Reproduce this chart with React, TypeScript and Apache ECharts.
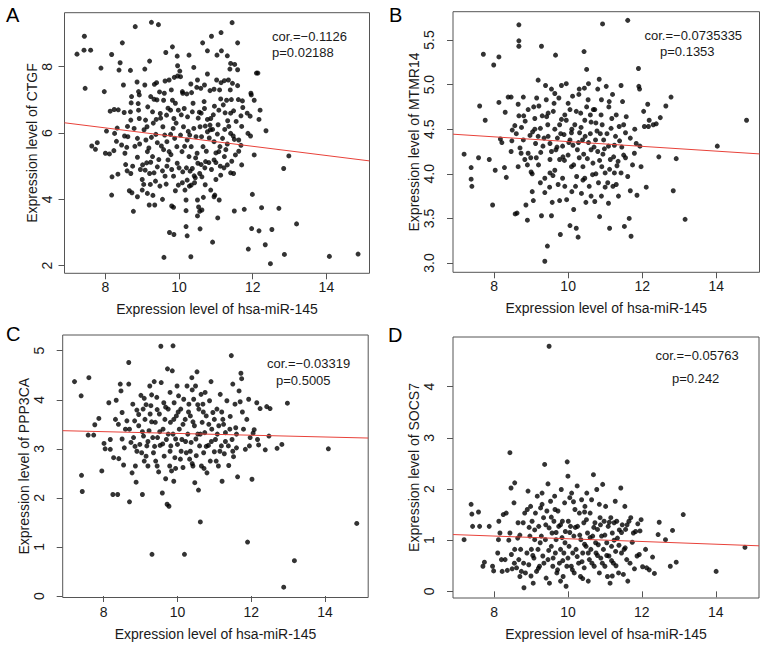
import React, { useEffect, useRef } from "react";
import * as echarts from "echarts";

const FONT = '"Liberation Sans", Arial, Helvetica, sans-serif';

const xName = "Expression level of hsa-miR-145";
const xTicks = [8, 10, 12, 14];
const xRange = [6.89, 15.17];

const yNames = [
  "Expression level of CTGF",
  "Expression level of MTMR14",
  "Expression level of PPP3CA",
  "Expression level of SOCS7",
];
const panelLetters = ["A", "B", "C", "D"];
const corTexts = ["cor.=\u22120.1126", "cor.=\u22120.0735335", "cor.=\u22120.03319", "cor.=\u22120.05763"];
const pTexts = ["p=0.02188", "p=0.1353", "p=0.5005", "p=0.242"];

const yTicksA = [2, 4, 6, 8];
const yTicksB = [3.0, 3.5, 4.0, 4.5, 5.0, 5.5];
const yTicksC = [0, 1, 2, 3, 4, 5];
const yTicksD = [0, 1, 2, 3, 4];
const yRanges = [
  [1.77, 9.63],
  [2.896, 5.817],
  [-0.03, 5.32],
  [-0.13, 4.97],
];

const fitA = [[6.89, 6.31], [15.17, 5.16]];
const fitB = [[6.89, 4.444], [15.17, 4.223]];
const fitC = [[6.89, 3.37], [15.17, 3.22]];
const fitD = [[6.89, 1.11], [15.17, 0.89]];

const ctgfPoints = [
  [7.23, 8.38], [7.43, 8.92], [7.42, 8.5], [7.6, 8.5], [7.45, 7.35], [8.81, 9.21], [9.25, 9.34], [9.44, 9.27],
  [8.17, 8.37], [8.46, 8.72], [7.88, 7.96], [7.97, 7.25], [8.4, 8.12], [8.37, 7.9], [8.49, 7.45], [8.68, 7.89],
  [9.07, 7.93], [9.2, 8.17], [8.9, 7.25], [9.07, 7.45], [9.33, 7.47], [9.39, 7.52], [9.64, 8.43], [9.82, 8.6],
  [9.95, 8.32], [9.96, 8.03], [10.02, 7.87], [9.96, 7.72], [10.27, 8.35], [10.4, 7.98], [10.64, 8.72], [10.77, 8.48],
  [10.88, 8.92], [11.14, 9.03], [11.03, 8.35], [11.15, 8.48], [11.31, 8.33], [11.44, 9.33], [11.59, 8.72], [11.4, 8.1],
  [11.38, 7.93], [11.51, 8.07], [11.59, 7.91], [12.1, 7.81], [12.14, 7.81], [11.96, 7.15],
  [8.86, 7.54], [8.92, 7.15], [8.71, 7.1], [8.7, 6.91], [8.89, 6.89], [9.23, 7.1], [9.32, 7.02], [9.47, 7.24],
  [9.58, 6.99], [9.62, 7.57], [9.73, 7.6], [9.79, 7.3], [9.82, 6.99], [9.87, 7.68], [10.04, 7.7], [10.09, 7.25],
  [10.21, 7.18], [10.32, 7.48], [10.34, 7.22], [10.48, 7.38], [10.59, 7.35], [10.69, 7.45], [10.77, 7.78], [10.84, 7.28],
  [10.95, 7.32], [11.02, 7.6], [11.14, 7.52], [11.23, 7.58], [11.34, 7.6], [11.39, 7.3], [11.45, 7.5], [11.59, 7.43],
  [11.13, 7.03], [11.29, 6.99], [11.42, 7.01], [11.61, 7.01], [11.72, 6.97], [11.95, 7.2], [12.04, 6.99],
  [8.13, 6.66], [8.24, 6.71], [8.35, 6.7], [8.51, 6.62], [8.68, 6.64], [8.69, 6.39], [8.9, 6.69], [8.92, 6.44],
  [9.09, 6.39], [9.15, 6.79], [9.28, 6.64], [9.38, 6.41], [9.49, 6.59], [9.66, 6.54], [9.77, 6.69], [9.86, 6.44],
  [9.98, 6.69], [10.14, 6.74], [10.23, 6.49], [10.36, 6.64], [10.55, 6.63], [10.69, 6.74], [10.77, 6.41], [10.86, 6.44],
  [10.96, 6.81], [11.08, 6.69], [11.25, 6.61], [11.32, 6.37], [11.48, 6.67], [11.68, 6.52], [11.73, 6.77], [11.93, 6.51],
  [12.17, 6.41], [12.2, 6.69], [12.36, 6.07], [8.03, 6.06], [7.78, 5.71], [7.63, 5.61], [7.73, 5.51], [8.0, 5.39],
  [8.11, 5.37], [8.25, 5.99], [8.32, 6.15], [8.23, 5.47], [8.52, 5.91], [8.61, 5.89], [8.44, 5.64], [8.58, 5.57],
  [8.53, 5.39], [8.78, 6.14], [8.87, 5.84], [8.93, 5.67], [9.13, 6.19], [9.1, 5.79], [9.14, 5.44], [9.25, 5.87],
  [9.28, 5.29], [9.37, 5.96], [9.41, 5.71], [9.52, 5.61], [9.56, 6.19], [9.61, 5.94], [9.67, 5.74], [9.73, 5.44],
  [9.77, 5.96], [9.84, 6.14], [9.88, 5.84], [9.94, 5.59], [10.04, 5.94], [10.08, 5.44], [10.12, 6.19], [10.22, 5.79],
  [10.29, 5.94], [10.33, 5.59], [10.4, 6.14], [10.46, 5.89], [10.49, 5.39], [10.57, 6.19], [10.61, 5.89], [10.65, 5.59],
  [10.71, 6.21], [10.77, 6.04], [10.84, 6.24], [10.91, 6.11], [10.95, 5.74], [11.04, 5.97], [11.11, 5.59], [11.18, 5.84],
  [11.24, 6.11], [11.31, 5.67], [11.4, 5.99], [11.47, 5.91], [11.5, 5.81], [11.62, 5.79], [11.68, 5.63], [11.87, 5.99],
  [11.94, 5.91],
  [8.18, 4.68], [8.34, 4.76], [8.59, 4.86], [8.69, 4.78], [8.74, 5.0], [8.87, 5.27], [9.01, 5.04], [9.08, 4.88],
  [9.2, 4.78], [9.23, 5.12], [9.32, 4.8], [9.41, 4.98], [9.55, 4.86], [9.67, 5.0], [9.7, 5.19], [9.85, 4.7],
  [9.95, 5.09], [10.1, 4.83], [10.22, 4.58], [10.27, 5.29], [10.36, 4.93], [10.41, 4.71], [10.51, 5.09], [10.56, 4.78],
  [10.62, 4.68], [10.72, 5.14], [10.81, 5.11], [10.95, 5.19], [11.0, 5.11], [11.08, 5.44], [11.13, 4.73], [11.23, 5.29],
  [11.31, 5.04], [11.4, 4.8], [11.48, 4.78], [11.53, 5.34], [11.7, 5.04], [12.04, 5.34], [12.84, 4.93], [12.98, 5.31],
  [8.17, 4.13], [8.65, 4.26], [8.72, 4.2], [8.87, 4.08], [9.0, 4.28], [9.04, 4.45], [9.14, 4.18], [9.19, 3.83],
  [9.29, 4.12], [9.34, 3.83], [9.55, 4.0], [9.65, 4.46], [9.8, 3.8], [9.85, 3.76], [9.9, 4.26], [9.98, 4.43],
  [10.09, 4.5], [10.16, 4.28], [10.19, 3.98], [10.28, 4.4], [10.33, 4.43], [10.42, 4.5], [10.5, 3.98], [10.53, 3.77],
  [10.56, 3.64], [10.5, 3.5], [10.62, 3.68], [10.66, 4.06], [10.71, 4.44], [10.86, 4.28], [10.95, 4.08], [11.09, 3.98],
  [10.97, 4.13], [10.19, 3.66], [11.5, 3.65], [11.77, 3.7], [11.99, 4.15], [12.24, 3.75], [12.71, 3.73], [8.76, 3.64],
  [9.74, 3.0], [9.86, 2.94], [10.19, 3.18], [10.22, 2.9], [10.57, 3.11], [11.05, 3.44], [10.91, 2.71], [11.97, 3.12],
  [12.17, 3.05], [12.52, 3.09], [11.88, 2.5], [12.34, 2.63], [13.19, 3.26], [12.86, 2.34], [9.59, 2.25], [10.32, 2.27],
  [12.48, 2.06], [14.08, 2.28], [14.86, 2.35],
  [9.05, 6.1], [9.18, 5.55], [9.3, 6.3], [9.45, 5.2], [9.5, 6.45], [9.62, 4.7], [9.7, 6.75], [9.78, 5.35],
  [9.92, 6.3], [10.0, 4.95], [10.06, 6.55], [10.15, 5.6], [10.25, 6.05], [10.3, 4.85], [10.38, 6.9], [10.45, 5.25],
  [10.52, 6.45], [10.6, 5.05], [10.68, 6.95], [10.74, 5.45], [10.82, 5.85], [10.88, 4.9], [10.93, 6.55], [11.0, 5.4],
  [11.06, 6.25], [11.12, 5.0], [11.2, 6.85], [11.27, 5.5], [11.35, 6.2], [11.43, 5.15], [11.55, 6.35], [11.62, 5.45],
  [9.0, 4.6], [9.12, 5.1], [9.22, 4.45], [9.36, 4.55], [9.48, 4.4], [9.58, 5.5], [9.8, 4.9], [9.9, 6.9],
  [10.1, 7.2], [10.2, 4.95], [10.44, 4.65], [10.6, 6.6], [10.7, 4.95], [10.85, 6.1], [11.0, 4.6], [11.1, 7.3],
  [11.22, 4.95], [11.4, 6.6], [8.6, 6.2], [8.8, 5.6], [8.95, 4.9], [8.55, 5.05], [8.3, 5.75], [9.4, 7.0],
  [9.6, 7.2], [10.5, 7.6], [11.7, 6.2], [11.85, 6.6],
];

const mtmr14Points = [
  [7.19, 4.22], [7.38, 4.07], [7.38, 3.94], [7.4, 3.86], [7.58, 4.18], [7.61, 4.76], [7.71, 5.34], [7.76, 4.6],
  [7.87, 4.16], [7.96, 3.65], [7.99, 5.22], [8.03, 4.04], [8.13, 5.31], [8.13, 4.8], [8.17, 4.39], [8.21, 4.35],
  [8.3, 4.69], [8.28, 4.07], [8.33, 3.96], [8.38, 4.86], [8.46, 4.86], [8.48, 4.37], [8.56, 4.54], [8.57, 3.55],
  [8.62, 3.56], [8.67, 5.67], [8.67, 5.49], [8.67, 5.43], [8.65, 4.78], [8.67, 4.65], [8.7, 4.29], [8.74, 4.52],
  [8.79, 4.86], [8.84, 4.59], [8.86, 3.65], [8.9, 3.48], [8.92, 4.72], [8.97, 4.43], [8.99, 4.18], [9.03, 3.8],
  [9.06, 3.7], [9.1, 4.62], [9.12, 4.34], [9.14, 4.18], [9.19, 5.05], [9.21, 4.76], [9.25, 4.51], [9.28, 5.43],
  [9.28, 3.53], [9.32, 4.31], [9.37, 3.79], [9.37, 3.02], [9.39, 4.99], [9.41, 4.83], [9.42, 4.64], [9.44, 3.19],
  [9.46, 4.42], [9.51, 4.16], [9.51, 4.01], [9.55, 3.53], [9.57, 3.68], [9.59, 3.98], [9.62, 4.79], [9.64, 4.5],
  [9.66, 5.33], [9.67, 4.27], [9.73, 3.88], [9.77, 4.16], [9.77, 3.7], [9.79, 3.32], [9.82, 4.61], [9.82, 4.99],
  [9.85, 4.31], [9.89, 4.44], [9.91, 3.86], [9.95, 5.01], [9.96, 3.71], [10.0, 4.21], [10.05, 4.72], [10.05, 3.42],
  [10.09, 4.08], [10.12, 4.87], [10.13, 4.32], [10.15, 3.6], [10.18, 4.55], [10.22, 3.39], [10.23, 3.97], [10.27, 3.29],
  [10.29, 4.89], [10.3, 4.18], [10.34, 4.68], [10.36, 3.78], [10.39, 4.38], [10.43, 5.37], [10.44, 4.96], [10.46, 4.42],
  [10.48, 3.68], [10.5, 5.17], [10.52, 4.17], [10.55, 5.01], [10.57, 3.86], [10.6, 4.66], [10.6, 4.45], [10.62, 4.27],
  [10.66, 3.99], [10.68, 4.72], [10.72, 3.69], [10.74, 4.38], [10.75, 4.57], [10.8, 4.25], [10.82, 3.9], [10.84, 5.06],
  [10.85, 3.52], [10.87, 4.45], [10.89, 4.66], [10.93, 5.68], [10.94, 4.22], [10.96, 4.38], [11.0, 4.01], [11.03, 4.98],
  [11.07, 3.9], [11.09, 3.67], [11.11, 4.81], [11.12, 3.39], [11.14, 4.16], [11.16, 4.51], [11.2, 4.89], [11.21, 3.86],
  [11.25, 4.32], [11.3, 4.66], [11.32, 4.09], [11.36, 3.75], [11.39, 4.37], [11.43, 4.99], [11.47, 4.81], [11.5, 4.21],
  [11.52, 3.41], [11.55, 4.46], [11.57, 4.64], [11.61, 5.72], [11.61, 3.97], [11.65, 3.5], [11.68, 3.81], [11.7, 3.3],
  [11.74, 4.1], [11.79, 4.23], [11.84, 4.34], [11.86, 3.76], [11.9, 5.18], [11.91, 4.98], [11.93, 4.95], [11.94, 4.31],
  [11.97, 4.08], [12.04, 4.7], [12.06, 4.53], [12.11, 3.85], [12.15, 4.78], [12.17, 4.53], [12.19, 4.6], [12.3, 4.55],
  [12.38, 4.56], [12.45, 4.19], [12.49, 4.63], [12.64, 4.76], [12.78, 4.86], [12.84, 3.81], [12.92, 4.17], [13.16, 3.49],
  [14.03, 4.31], [14.82, 4.6],
  [9.19, 4.42], [9.26, 4.24], [9.51, 4.34], [9.71, 4.4], [9.86, 4.19], [10.05, 4.38], [10.25, 4.27], [10.4, 4.08],
  [10.67, 4.12], [10.91, 4.08], [11.09, 4.31], [11.23, 4.19], [11.38, 4.53], [9.04, 4.47], [8.92, 4.23], [8.79, 4.38],
  [8.73, 4.23], [8.49, 4.49], [8.46, 4.25], [8.65, 4.08], [8.83, 4.16], [9.77, 4.55], [9.91, 4.66], [10.09, 4.46],
  [10.31, 4.46], [10.45, 4.6], [10.72, 4.72], [10.9, 4.83], [10.54, 4.83], [10.0, 4.79], [9.64, 4.9], [9.46, 4.68],
  [9.07, 4.75], [9.03, 4.0], [9.37, 3.95], [9.64, 4.04], [10.2, 3.86], [10.4, 3.93], [10.62, 3.75], [10.9, 3.75],
  [11.25, 4.01], [11.43, 4.01],
  [9.1, 4.5], [9.2, 4.1], [9.3, 4.65], [9.35, 4.4], [9.45, 4.55], [9.55, 4.25], [9.6, 4.7], [9.7, 4.3],
  [9.75, 4.85], [9.8, 4.45], [9.9, 4.15], [9.95, 4.6], [10.02, 4.35], [10.1, 4.5], [10.15, 4.1], [10.22, 4.7],
  [10.28, 4.35], [10.35, 4.52], [10.42, 4.22], [10.5, 4.75], [10.55, 4.35], [10.62, 4.58], [10.7, 4.3], [10.78, 4.48],
  [10.85, 4.15], [10.92, 4.55], [10.98, 4.28], [11.05, 4.45], [11.12, 4.05], [11.18, 4.62], [11.28, 4.42], [11.35, 4.14],
  [11.45, 4.3], [11.55, 4.18], [11.68, 4.4], [9.0, 4.02], [9.25, 3.9], [9.5, 3.85], [9.85, 3.95], [10.1, 3.8],
  [10.45, 3.95], [10.75, 4.0], [11.0, 3.85], [11.3, 3.88], [8.6, 4.45], [8.8, 4.65], [8.9, 4.1], [9.15, 4.85],
  [9.55, 4.95], [10.3, 4.95], [10.8, 4.95], [11.1, 4.75], [11.5, 4.55], [11.8, 4.5],
];

const ppp3caPoints = [
  [7.21, 4.37], [7.39, 4.08], [7.4, 2.46], [7.42, 2.13], [7.6, 4.45], [7.58, 3.28], [7.73, 3.28], [7.76, 3.49],
  [7.87, 3.62], [7.95, 2.55], [8.01, 3.11], [8.04, 3.0], [8.14, 3.94], [8.18, 3.19], [8.18, 2.99], [8.25, 2.07],
  [8.27, 2.82], [8.32, 3.6], [8.34, 3.99], [8.38, 2.07], [8.41, 2.8], [8.45, 4.32], [8.47, 4.18], [8.5, 3.74],
  [8.54, 2.67], [8.56, 3.02], [8.59, 3.4], [8.63, 3.57], [8.68, 4.76], [8.68, 4.32], [8.7, 1.92], [8.74, 3.13],
  [8.77, 2.51], [8.79, 3.91], [8.81, 3.23], [8.84, 3.57], [8.86, 2.65], [8.88, 2.32], [8.9, 3.79], [8.95, 3.47],
  [8.98, 3.09], [9.01, 4.09], [9.03, 2.92], [9.05, 2.07], [9.07, 3.81], [9.08, 3.26], [9.1, 4.03], [9.12, 3.6],
  [9.15, 2.85], [9.17, 3.06], [9.2, 2.65], [9.23, 3.37], [9.25, 4.28], [9.26, 3.71], [9.28, 3.88], [9.31, 0.85],
  [9.33, 3.23], [9.35, 2.92], [9.37, 4.37], [9.4, 3.54], [9.41, 2.75], [9.44, 4.05], [9.46, 3.23], [9.49, 2.53],
  [9.51, 3.71], [9.53, 3.07], [9.55, 5.09], [9.56, 4.35], [9.59, 2.1], [9.61, 3.4], [9.63, 3.94], [9.64, 2.85],
  [9.66, 3.6], [9.68, 2.39], [9.7, 3.19], [9.72, 1.87], [9.73, 4.63], [9.75, 3.81], [9.77, 1.83], [9.79, 2.65],
  [9.81, 3.54], [9.82, 3.06], [9.84, 2.55], [9.86, 4.59], [9.88, 5.1], [9.88, 3.3], [9.9, 2.34], [9.91, 3.94],
  [9.93, 2.82], [9.97, 3.67], [9.99, 4.28], [10.0, 3.09], [10.03, 4.08], [10.05, 3.4], [10.08, 2.79], [10.09, 3.81],
  [10.12, 3.19], [10.15, 2.62], [10.17, 4.01], [10.19, 0.85], [10.21, 3.6], [10.24, 2.92], [10.26, 4.28], [10.28, 3.3],
  [10.31, 3.91], [10.33, 2.79], [10.35, 3.67], [10.37, 3.13], [10.39, 4.45], [10.42, 2.65], [10.44, 4.01], [10.46, 3.47],
  [10.47, 2.31], [10.49, 4.28], [10.51, 2.86], [10.53, 4.57], [10.55, 3.3], [10.57, 2.16], [10.58, 3.81], [10.6, 3.06],
  [10.62, 1.51], [10.64, 4.11], [10.65, 2.65], [10.67, 3.54], [10.69, 3.91], [10.71, 2.92], [10.74, 3.33], [10.78, 3.67],
  [10.8, 2.51], [10.84, 3.07], [10.87, 3.98], [10.89, 2.75], [10.91, 4.37], [10.93, 3.4], [10.96, 3.74], [11.0, 2.94],
  [11.03, 3.19], [11.07, 3.81], [11.11, 2.65], [11.12, 3.47], [11.16, 4.11], [11.19, 3.06], [11.21, 2.34], [11.23, 3.6],
  [11.27, 2.9], [11.3, 3.33], [11.34, 3.98], [11.38, 3.06], [11.39, 2.66], [11.43, 3.66], [11.46, 4.9], [11.48, 3.19],
  [11.5, 4.32], [11.52, 2.84], [11.56, 3.91], [11.58, 3.43], [11.6, 3.02], [11.63, 2.43], [11.67, 4.18], [11.7, 3.96],
  [11.72, 4.54], [11.74, 4.43], [11.76, 3.75], [11.79, 3.4], [11.84, 2.99], [11.88, 3.6], [11.9, 1.1], [11.93, 4.01],
  [11.95, 3.06], [11.97, 3.23], [12.02, 2.38], [12.05, 3.32], [12.08, 3.39], [12.15, 3.94], [12.17, 3.19], [12.24, 3.82],
  [12.2, 3.08], [12.38, 2.98], [12.42, 3.86], [12.48, 3.26], [12.51, 3.82], [12.7, 3.01], [12.83, 3.09], [12.98, 3.93],
  [12.88, 0.18], [13.17, 0.72], [14.09, 3.0], [14.86, 1.48],
  [8.7, 3.4], [8.85, 3.05], [8.95, 3.7], [9.05, 3.35], [9.15, 3.9], [9.2, 3.15], [9.3, 3.55], [9.38, 3.05],
  [9.45, 3.8], [9.52, 3.35], [9.6, 3.1], [9.68, 3.85], [9.75, 3.3], [9.8, 2.95], [9.9, 3.6], [9.95, 3.2],
  [10.02, 3.75], [10.1, 2.95], [10.15, 3.5], [10.22, 3.15], [10.3, 3.75], [10.35, 2.95], [10.42, 3.55], [10.5, 3.2],
  [10.55, 3.9], [10.62, 3.3], [10.7, 3.75], [10.78, 3.05], [10.85, 3.5], [10.92, 3.15], [11.0, 3.6], [11.08, 3.3],
  [11.15, 2.95], [11.25, 3.5], [11.3, 3.15], [11.42, 3.4], [11.5, 2.95], [11.6, 3.3], [9.1, 2.75], [9.45, 2.65],
  [9.95, 2.6], [10.4, 2.7], [10.72, 2.6], [11.05, 2.75], [9.3, 4.1], [9.8, 4.15], [10.4, 4.2], [10.75, 4.15],
  [11.2, 3.75], [8.5, 3.2], [8.4, 3.5], [8.9, 2.95],
];

const socs7Points = [
  [7.19, 1.01], [7.38, 1.7], [7.4, 1.51], [7.42, 1.27], [7.58, 1.55], [7.61, 1.27], [7.7, 0.49], [7.74, 0.57],
  [7.87, 1.27], [7.96, 0.49], [7.99, 0.4], [8.1, 0.75], [8.12, 1.01], [8.13, 1.37], [8.16, 1.14], [8.2, 0.62],
  [8.22, 0.39], [8.25, 1.5], [8.3, 0.62], [8.33, 1.53], [8.36, 0.41], [8.43, 1.14], [8.43, 2.71], [8.46, 2.02],
  [8.47, 0.72], [8.49, 0.44], [8.54, 1.73], [8.56, 2.12], [8.56, 0.82], [8.61, 0.46], [8.64, 1.04], [8.65, 1.34],
  [8.67, 0.62], [8.7, 0.29], [8.72, 0.82], [8.74, 0.39], [8.79, 1.34], [8.81, 0.07], [8.83, 1.53], [8.85, 0.36],
  [8.89, 0.75], [8.9, 1.6], [8.92, 1.96], [8.94, 0.52], [8.97, 1.08], [8.99, 1.66], [9.01, 0.82], [9.03, 1.37],
  [9.06, 0.16], [9.08, 0.65], [9.1, 1.01], [9.12, 1.53], [9.15, 0.39], [9.17, 1.86], [9.19, 0.82], [9.21, 1.27],
  [9.23, 0.49], [9.26, 1.63], [9.28, 1.08], [9.3, 1.92], [9.32, 0.69], [9.34, 1.44], [9.37, 2.48], [9.39, 1.01],
  [9.41, 0.26], [9.43, 1.57], [9.46, 2.1], [9.46, 0.62], [9.49, 1.24], [9.5, 0.16], [9.49, 4.79], [9.53, 1.76],
  [9.55, 0.88], [9.57, 1.14], [9.59, 0.49], [9.62, 1.37], [9.64, 1.86], [9.66, 0.75], [9.68, 1.01], [9.7, 0.36],
  [9.73, 1.57], [9.75, 1.27], [9.77, 0.55], [9.8, 0.82], [9.82, 1.99], [9.84, 1.05], [9.85, 1.37], [9.87, 0.29],
  [9.89, 0.75], [9.91, 1.73], [9.93, 1.17], [9.95, 0.1], [9.97, 0.49], [9.98, 2.53], [10.0, 2.25], [10.01, 1.37],
  [10.03, 0.88], [10.05, 1.83], [10.07, 1.27], [10.09, 0.49], [10.1, 1.92], [10.13, 0.75], [10.16, 1.08], [10.17, 0.36],
  [10.19, 1.6], [10.22, 0.82], [10.25, 2.06], [10.26, 1.27], [10.29, 0.55], [10.31, 1.53], [10.34, 0.29], [10.35, 1.01],
  [10.37, 1.79], [10.4, 0.75], [10.43, 1.34], [10.44, 0.46], [10.46, 1.66], [10.49, 0.88], [10.51, 1.92], [10.53, 1.14],
  [10.55, 0.2], [10.58, 0.62], [10.6, 1.53], [10.62, 0.82], [10.64, 1.79], [10.67, 1.08], [10.69, 2.28], [10.71, 0.49],
  [10.73, 1.34], [10.76, 0.75], [10.78, 1.99], [10.8, 1.21], [10.82, 0.91], [10.85, 0.36], [10.87, 1.44], [10.89, 0.65],
  [10.91, 1.08], [10.94, 2.09], [10.96, 0.82], [10.98, 1.37], [11.0, 0.49], [11.02, 1.66], [11.05, 0.95], [11.07, 0.29],
  [11.09, 1.27], [11.11, 0.69], [11.14, 0.16], [11.16, 1.44], [11.18, 0.88], [11.2, 1.14], [11.23, 0.55], [11.25, 1.34],
  [11.28, 1.76], [11.29, 0.78], [11.32, 1.37], [11.34, 1.04], [11.37, 0.36], [11.39, 1.2], [11.43, 2.02], [11.45, 0.75],
  [11.47, 1.3], [11.5, 0.33], [11.52, 0.82], [11.54, 1.66], [11.56, 1.21], [11.59, 0.62], [11.62, 0.2], [11.65, 1.37],
  [11.7, 1.44], [11.74, 0.96], [11.77, 1.14], [11.8, 0.44], [11.83, 1.17], [11.87, 0.69], [11.89, 1.32], [11.93, 0.72],
  [11.95, 1.18], [11.98, 1.4], [12.02, 0.48], [12.1, 0.82], [12.13, 0.46], [12.2, 0.42], [12.29, 0.67], [12.34, 0.35],
  [12.44, 1.11], [12.47, 1.35], [12.64, 1.01], [12.77, 0.49], [12.83, 1.19], [12.93, 0.57], [13.12, 1.5], [14.01, 0.39],
  [14.79, 0.86],
  [8.7, 1.1], [8.8, 0.55], [8.95, 1.25], [9.05, 0.7], [9.1, 1.2], [9.2, 0.45], [9.25, 0.95], [9.35, 0.55],
  [9.4, 1.3], [9.48, 0.8], [9.55, 1.45], [9.6, 0.65], [9.68, 1.15], [9.72, 0.42], [9.8, 1.3], [9.86, 0.6],
  [9.92, 0.95], [10.0, 0.65], [10.05, 1.15], [10.12, 0.42], [10.2, 1.25], [10.25, 0.68], [10.32, 1.1], [10.38, 0.58],
  [10.45, 0.92], [10.5, 1.4], [10.55, 0.75], [10.6, 1.05], [10.65, 0.55], [10.7, 1.25], [10.75, 0.95], [10.8, 0.7],
  [10.88, 1.3], [10.93, 0.55], [11.0, 1.1], [11.05, 0.7], [11.12, 1.35], [11.18, 0.6], [11.25, 1.0], [11.3, 0.5],
  [11.38, 0.9], [11.45, 1.15], [11.55, 0.85], [11.6, 1.3], [11.68, 0.55], [9.3, 1.7], [9.65, 1.6], [10.15, 1.75],
  [10.45, 1.55], [10.85, 1.7], [8.55, 0.55], [8.4, 1.0], [9.0, 0.3], [9.8, 0.2], [10.4, 0.25], [11.2, 0.3],
];

const pointSets = [ctgfPoints, mtmr14Points, ppp3caPoints, socs7Points];
const fits = [fitA, fitB, fitC, fitD];
const yTickSets = [yTicksA, yTicksB, yTicksC, yTicksD];

// layout (pixels)
const layout = [
  { grid: [64.5, 12.7, 305, 260.6], yLabelMargin: 11, yNameGap: 25, letter: [6, 15], cor: [272, 36.7], p: [272, 52.7] },
  { grid: [453, 11.7, 306.5, 260.6], yLabelMargin: 17, yNameGap: 31, letter: [389, 15], cor: [644.5, 35.5], p: [660, 51.5] },
  { grid: [62.7, 335, 305.5, 262.5], yLabelMargin: 17, yNameGap: 29, letter: [6, 334], cor: [267, 363], p: [276, 380.5] },
  { grid: [453, 337, 306, 261], yLabelMargin: 17, yNameGap: 31, letter: [388, 335], cor: [655.5, 355], p: [672, 378.5] },
];

export default function App() {
  const ref = useRef<HTMLDivElement>(null);

  useEffect(() => {
    if (!ref.current) return;
    const chart = echarts.init(ref.current, undefined, { renderer: "svg" });
    const textColor = "#1a1a1a";
    const axisColor = "#555";

    const grid = layout.map((l) => ({
      left: l.grid[0], top: l.grid[1], width: l.grid[2], height: l.grid[3],
      show: true, borderColor: axisColor, borderWidth: 1, backgroundColor: "transparent",
    }));

    const xAxis = layout.map((l, i) => ({
      type: "value", gridIndex: i, min: xRange[0], max: xRange[1],
      name: xName, nameLocation: "middle", nameGap: 29,
      nameTextStyle: { fontSize: 14, color: textColor, fontFamily: FONT },
      axisLine: { show: false }, splitLine: { show: false },
      axisTick: { show: true, length: 6, lineStyle: { color: axisColor }, customValues: xTicks },
      axisLabel: { customValues: xTicks, fontSize: 14, color: textColor, fontFamily: FONT, margin: 7 },
    }));

    const yAxis = layout.map((l, i) => ({
      type: "value", gridIndex: i, min: yRanges[i][0], max: yRanges[i][1],
      name: yNames[i], nameLocation: "middle", nameGap: l.yNameGap,
      nameTextStyle: { fontSize: 14, color: textColor, fontFamily: FONT },
      axisLine: { show: false }, splitLine: { show: false },
      axisTick: { show: true, length: 6, lineStyle: { color: axisColor }, customValues: yTickSets[i] },
      axisLabel: {
        customValues: yTickSets[i], rotate: 90, fontSize: 14, color: textColor, fontFamily: FONT, margin: l.yLabelMargin,
        formatter: (v: number) => (i === 1 ? v.toFixed(1) : String(v)),
      },
    }));

    const series: any[] = [];
    pointSets.forEach((pts, i) => {
      series.push({
        type: "scatter", xAxisIndex: i, yAxisIndex: i, data: pts, symbol: "circle", symbolSize: 5,
        itemStyle: { color: "#000" }, silent: true,
      });
      series.push({
        type: "line", xAxisIndex: i, yAxisIndex: i, data: fits[i], symbol: "none", silent: true,
        lineStyle: { color: "#e8423a", width: 1 },
      });
    });

    const graphic: any[] = [];
    layout.forEach((l, i) => {
      graphic.push({
        type: "text", x: l.letter[0], y: l.letter[1],
        style: { text: panelLetters[i], fontSize: 20, fontFamily: FONT, fill: "#000", textVerticalAlign: "middle" },
      });
      graphic.push({
        type: "text", x: l.cor[0], y: l.cor[1],
        style: { text: corTexts[i], fontSize: 13, fontFamily: FONT, fill: textColor, textVerticalAlign: "middle" },
      });
      graphic.push({
        type: "text", x: l.p[0], y: l.p[1],
        style: { text: pTexts[i], fontSize: 13, fontFamily: FONT, fill: textColor, textVerticalAlign: "middle" },
      });
    });

    chart.setOption({
      animation: false,
      backgroundColor: "#fff",
      grid, xAxis, yAxis, series, graphic,
    });
    return () => chart.dispose();
  }, []);

  return (
    <div
      ref={ref}
      style={{ position: "fixed", left: 0, top: 0, width: 765, height: 648, background: "#fff" }}
    />
  );
}
